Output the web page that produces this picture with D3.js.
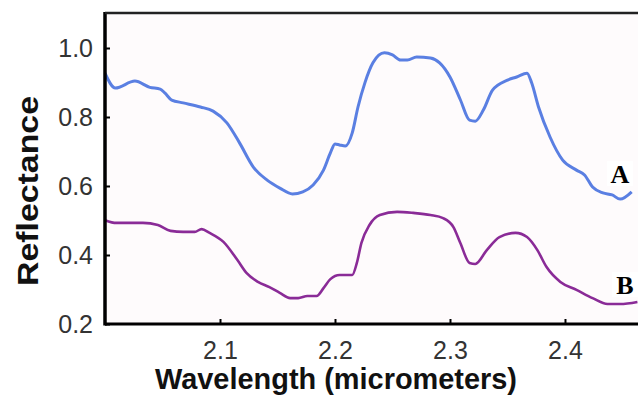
<!DOCTYPE html>
<html>
<head>
<meta charset="utf-8"/>
<script src="https://cdn.jsdelivr.net/npm/d3@7"></script>
<style>
html, body { margin: 0; padding: 0; background: #fff; }
svg { display: block; font-family: Arial, "Liberation Sans", sans-serif; }
.tick text { fill: #333; font-size: 25px; }
.axis-title { font-weight: bold; fill: #111; font-size: 29px; }
.tag { font-family: "Liberation Serif", "Times New Roman", serif; font-weight: bold; font-size: 26px; fill: #000; }
</style>
</head>
<body>
<svg id="chart" width="638" height="407"></svg>
<script>

// wavelength (micrometers) and reflectance
var wavelengthA = [2.000, 2.009, 2.026, 2.039, 2.048, 2.052, 2.058, 2.068, 2.083, 2.094,
  2.106, 2.117, 2.129, 2.141, 2.152, 2.163, 2.172, 2.181, 2.190, 2.196,
  2.200, 2.204, 2.209, 2.215, 2.220, 2.226, 2.233, 2.243, 2.250, 2.257,
  2.263, 2.271, 2.283, 2.291, 2.300, 2.309, 2.317, 2.322, 2.329, 2.337,
  2.350, 2.358, 2.367, 2.371, 2.377, 2.387, 2.398, 2.410, 2.417, 2.424,
  2.433, 2.441, 2.448, 2.458];
var reflectanceA = [0.927, 0.884, 0.904, 0.886, 0.881, 0.870, 0.849, 0.841, 0.829, 0.817,
  0.783, 0.725, 0.655, 0.617, 0.594, 0.577, 0.583, 0.603, 0.646, 0.696,
  0.722, 0.719, 0.716, 0.754, 0.829, 0.899, 0.957, 0.986, 0.980, 0.965,
  0.965, 0.974, 0.971, 0.957, 0.916, 0.850, 0.791, 0.788, 0.820, 0.878,
  0.907, 0.916, 0.927, 0.899, 0.829, 0.742, 0.675, 0.646, 0.632, 0.597,
  0.580, 0.574, 0.562, 0.583];

var wavelengthB = [2.000, 2.010, 2.033, 2.046, 2.057, 2.068, 2.078, 2.084, 2.091, 2.103,
  2.115, 2.123, 2.133, 2.143, 2.152, 2.161, 2.168, 2.176, 2.184, 2.190,
  2.196, 2.204, 2.215, 2.219, 2.223, 2.230, 2.239, 2.254, 2.268, 2.283,
  2.294, 2.303, 2.309, 2.317, 2.322, 2.332, 2.343, 2.357, 2.367, 2.376,
  2.384, 2.396, 2.410, 2.424, 2.437, 2.448, 2.463];
var reflectanceB = [0.501, 0.493, 0.493, 0.487, 0.470, 0.467, 0.467, 0.475, 0.464, 0.438,
  0.386, 0.348, 0.322, 0.307, 0.290, 0.275, 0.275, 0.281, 0.281, 0.304,
  0.330, 0.342, 0.342, 0.377, 0.435, 0.487, 0.516, 0.525, 0.522, 0.516,
  0.507, 0.481, 0.435, 0.377, 0.374, 0.414, 0.452, 0.464, 0.452, 0.414,
  0.365, 0.322, 0.299, 0.275, 0.258, 0.258, 0.264];

var xTicks = [2.1, 2.2, 2.3, 2.4];
var yTicks = [0.2, 0.4, 0.6, 0.8, 1.0];

var seriesList = [
  {name: "A", x: wavelengthA, y: reflectanceA, color: "#5a7fe2", width: 3},
  {name: "B", x: wavelengthB, y: reflectanceB, color: "#8a2b97", width: 2.6}
];

var svg = d3.select("#chart");
var plotLeft = 105, plotTop = 13, plotBottom = 324, plotRight = 638;

var x = d3.scaleLinear().domain([2.0, 2.4635]).range([plotLeft, plotRight]);
var y = d3.scaleLinear().domain([0.2, 1.0]).range([plotBottom, 48]);

//---------------------------------------
// plot background
svg.append("rect")
  .attr("x", plotLeft).attr("y", plotTop)
  .attr("width", plotRight - plotLeft).attr("height", plotBottom - plotTop)
  .attr("fill", "#fefbfc");

//---------------------------------------
// curves
var line = d3.line()
  .x(function(d) { return x(d[0]); })
  .y(function(d) { return y(d[1]); })
  .curve(d3.curveMonotoneX);

seriesList.forEach(function(s) {
  svg.append("path")
    .datum(d3.zip(s.x, s.y))
    .attr("fill", "none")
    .attr("stroke", s.color)
    .attr("stroke-width", s.width)
    .attr("stroke-linejoin", "round")
    .attr("d", line);
});

//---------------------------------------
// axes, ticks pointing inward
var xAxis = svg.append("g")
  .attr("transform", "translate(0," + plotBottom + ")")
  .call(d3.axisBottom(x).tickValues(xTicks).tickFormat(d3.format(".1f"))
    .tickSizeInner(-5).tickSizeOuter(0).tickPadding(12));
xAxis.select(".domain").remove();
xAxis.selectAll(".tick line").attr("stroke", "#000").attr("stroke-width", 2);
xAxis.selectAll(".tick text").attr("dy", "0.71em").attr("y", 17);

var yAxis = svg.append("g")
  .attr("transform", "translate(" + plotLeft + ",0)")
  .call(d3.axisLeft(y).tickValues(yTicks).tickFormat(d3.format(".1f"))
    .tickSizeInner(-5).tickSizeOuter(0).tickPadding(12));
yAxis.select(".domain").remove();
yAxis.selectAll(".tick line").attr("stroke", "#000").attr("stroke-width", 2);
yAxis.selectAll(".tick text").attr("x", -12);

// frame lines
svg.append("line").attr("x1", plotLeft).attr("x2", plotRight).attr("y1", plotBottom).attr("y2", plotBottom)
  .attr("stroke", "#000").attr("stroke-width", 3);
svg.append("line").attr("x1", plotLeft).attr("x2", plotLeft).attr("y1", plotTop - 1).attr("y2", plotBottom + 1.5)
  .attr("stroke", "#000").attr("stroke-width", 3.5);
svg.append("line").attr("x1", plotLeft).attr("x2", plotRight).attr("y1", plotTop).attr("y2", plotTop)
  .attr("stroke", "#222").attr("stroke-width", 2.5);

//---------------------------------------
// titles
svg.append("text")
  .attr("class", "axis-title")
  .attr("x", 336).attr("y", 389)
  .attr("text-anchor", "middle")
  .attr("textLength", 362).attr("lengthAdjust", "spacingAndGlyphs")
  .text("Wavelength (micrometers)");

svg.append("text")
  .attr("class", "axis-title")
  .attr("transform", "translate(38,191) rotate(-90)")
  .attr("text-anchor", "middle")
  .attr("textLength", 190).attr("lengthAdjust", "spacingAndGlyphs")
  .text("Reflectance");

// curve tags
var tags = [{name: "A", x: 620, y: 183}, {name: "B", x: 625, y: 294}];
tags.forEach(function(t) {
  svg.append("rect")
    .attr("x", t.x - 13).attr("y", t.y - 22)
    .attr("width", 26).attr("height", 25)
    .attr("fill", "#fff");
  svg.append("text")
    .attr("class", "tag")
    .attr("x", t.x).attr("y", t.y)
    .attr("text-anchor", "middle")
    .text(t.name);
});

</script>
</body>
</html>
